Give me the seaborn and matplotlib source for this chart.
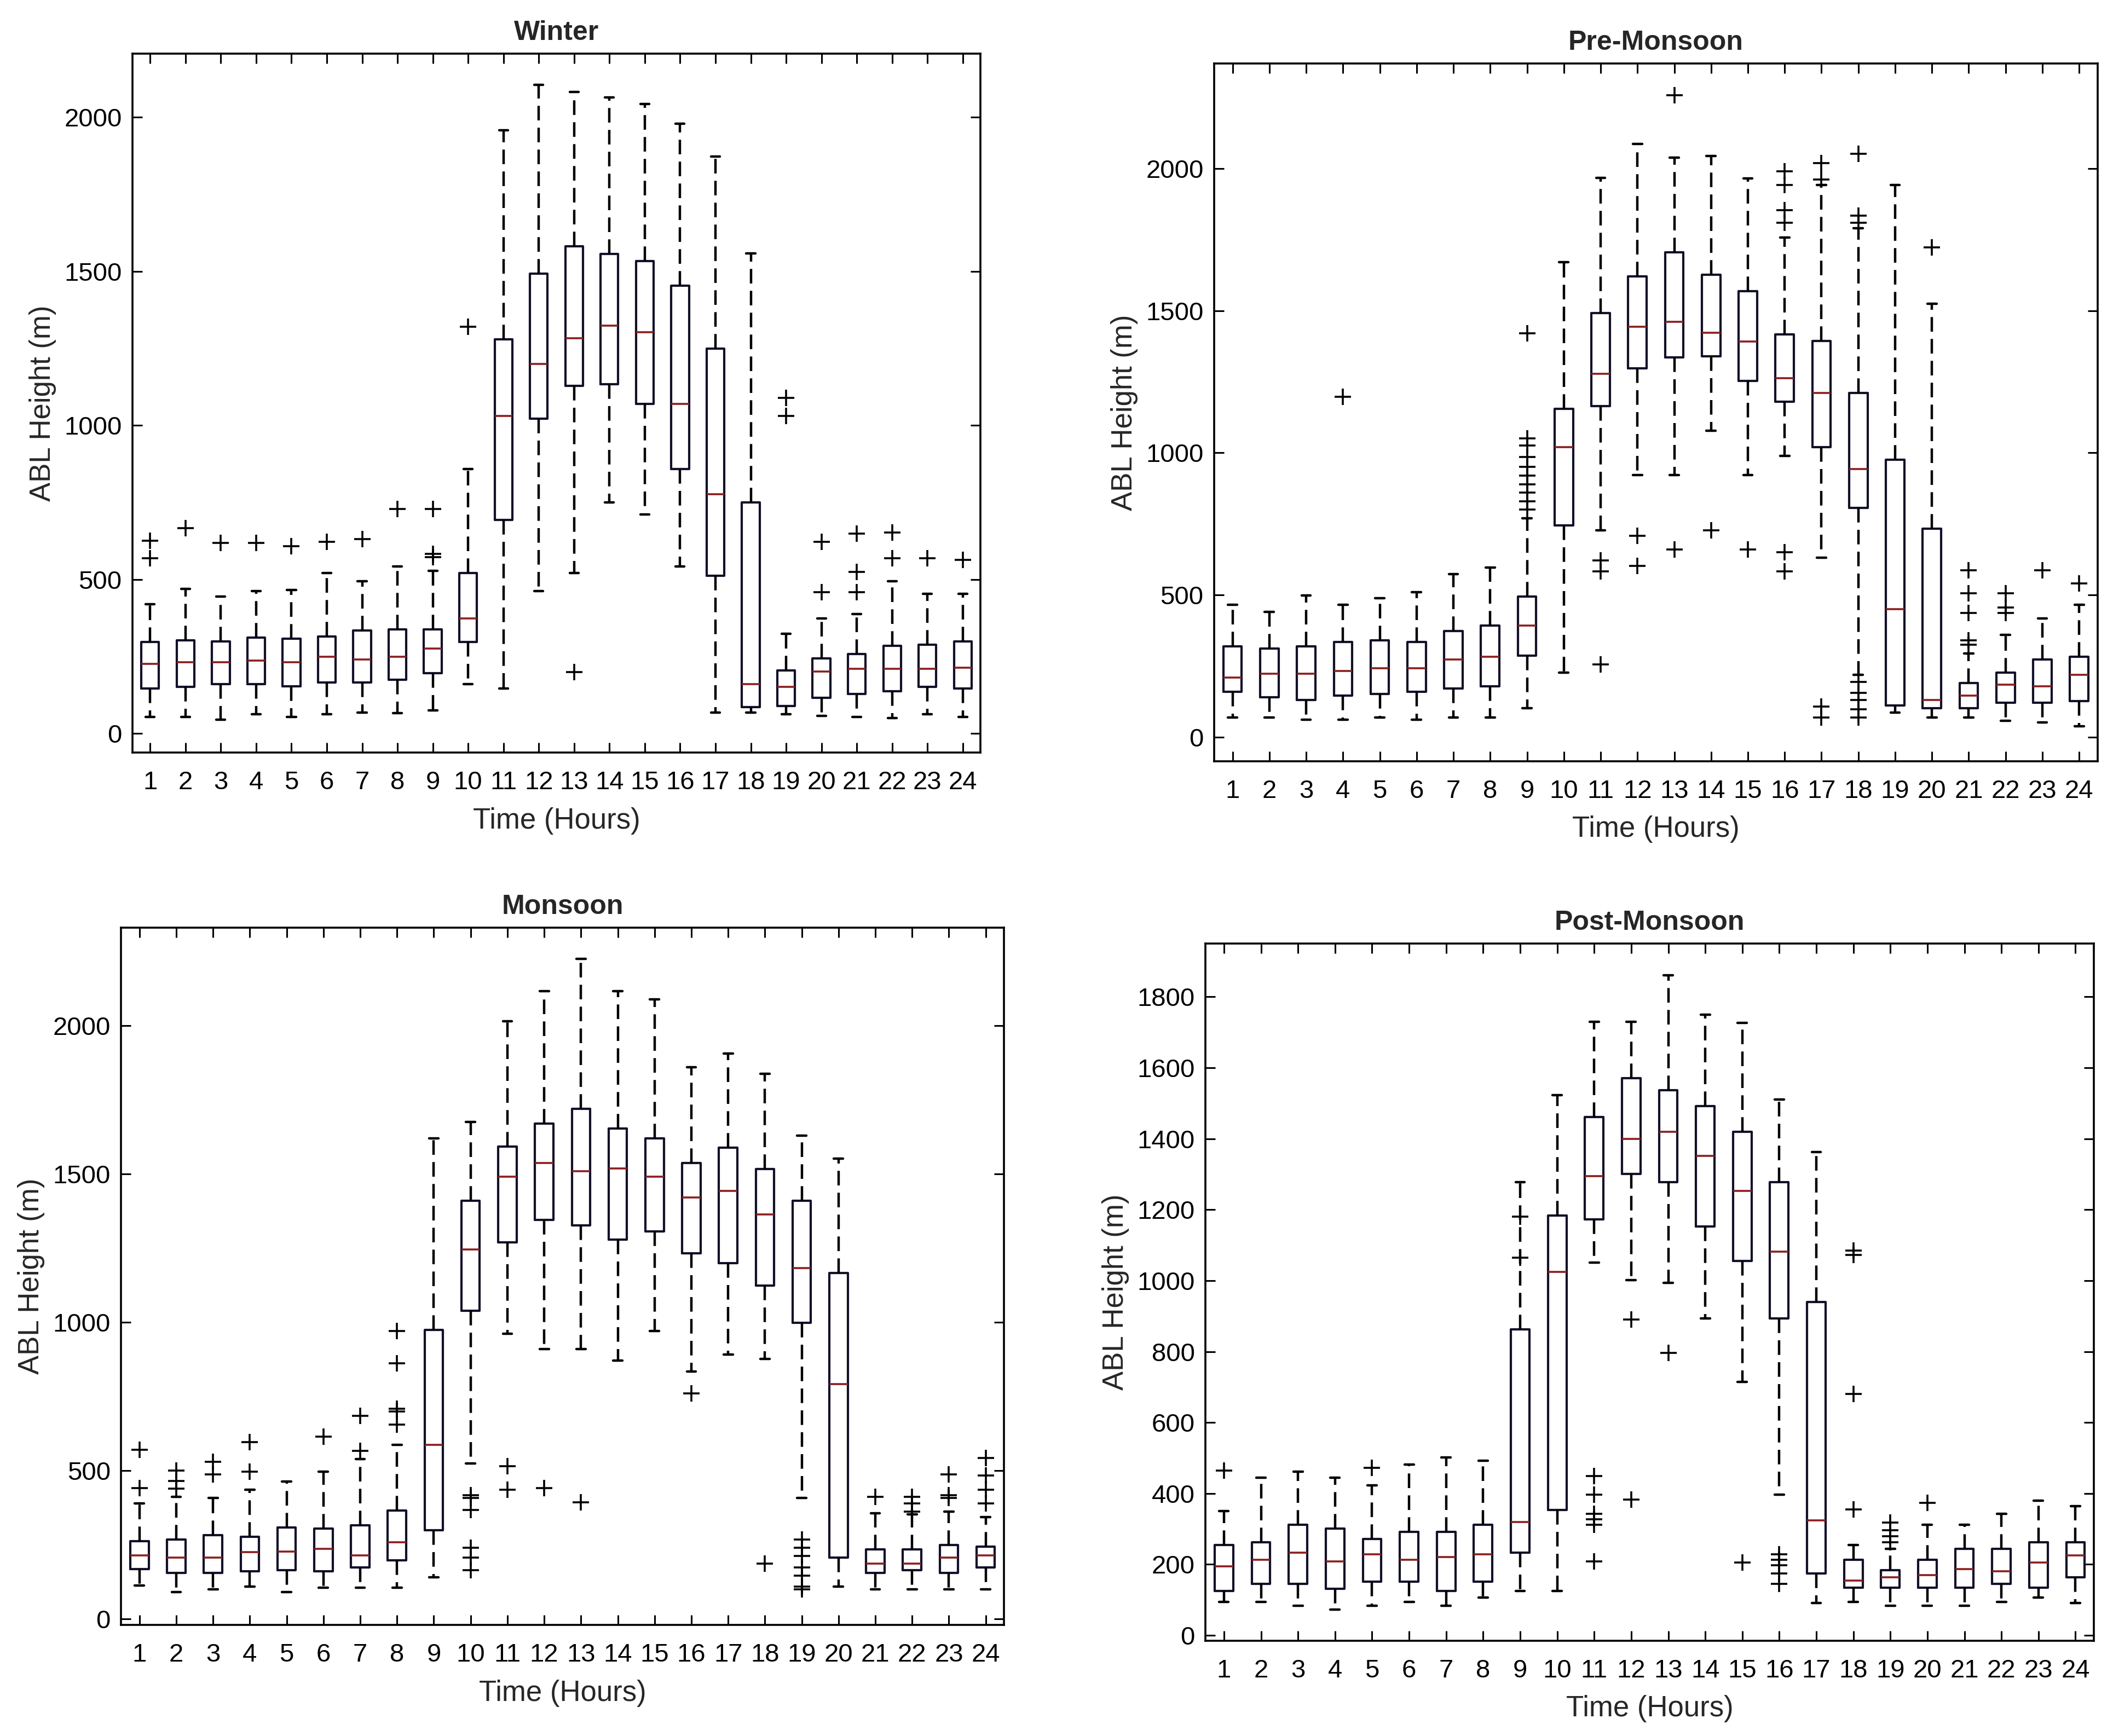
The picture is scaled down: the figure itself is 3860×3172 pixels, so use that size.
import matplotlib
matplotlib.use("Agg")
import matplotlib.pyplot as plt
import seaborn as sns

# hours on the x axis
hours = list(range(1, 25))

# ---------------- Winter ----------------
winter_q1 = [146, 151, 160, 160, 153, 165, 165, 174, 195, 297, 693, 1021, 1128, 1133, 1069, 858, 511, 85, 89, 115, 128, 137, 151, 146]
winter_med = [226, 231, 231, 236, 231, 249, 240, 249, 275, 373, 1030, 1199, 1282, 1323, 1302, 1069, 776, 160, 151, 201, 210, 210, 210, 213]
winter_q3 = [297, 302, 298, 311, 307, 314, 334, 337, 337, 520, 1279, 1492, 1581, 1556, 1533, 1453, 1249, 749, 204, 243, 258, 284, 288, 298]
winter_lo = [53, 53, 44, 62, 53, 62, 67, 66, 75, 160, 146, 462, 520, 749, 710, 542, 67, 67, 62, 57, 53, 50, 62, 53]
winter_hi = [420, 470, 444, 462, 465, 520, 494, 542, 527, 858, 1957, 2105, 2081, 2064, 2042, 1978, 1872, 1558, 323, 373, 387, 494, 453, 453]
winter_out = [[568, 625], [666], [618], [618], [607], [622], [630], [728], [572, 582, 728], [1320],
              [], [], [199], [], [], [], [], [], [1030, 1089], [458, 622], [458, 524, 648], [568, 652], [568], [563]]

# ---------------- Pre-Monsoon ----------------
pre_q1 = [159, 140, 130, 146, 151, 159, 171, 179, 287, 744, 1165, 1297, 1336, 1340, 1252, 1179, 1019, 806, 111, 101, 101, 120, 120, 126]
pre_med = [210, 223, 223, 233, 243, 243, 272, 282, 392, 1019, 1278, 1443, 1460, 1423, 1392, 1262, 1210, 942, 450, 130, 146, 184, 179, 219]
pre_q3 = [320, 311, 320, 334, 340, 334, 373, 392, 495, 1155, 1491, 1621, 1705, 1627, 1569, 1417, 1394, 1210, 975, 734, 190, 227, 272, 282]
pre_lo = [68, 68, 62, 62, 68, 62, 68, 68, 101, 227, 728, 922, 922, 1078, 922, 990, 631, 220, 87, 68, 68, 58, 52, 39]
pre_hi = [466, 441, 499, 466, 489, 509, 573, 596, 770, 1670, 1967, 2087, 2039, 2045, 1965, 1757, 1942, 1790, 1942, 1524, 295, 359, 417, 466]
pre_out = [[], [], [], [1198], [], [], [], [], [800, 830, 860, 890, 920, 950, 985, 1025, 1050, 1421], [],
           [256, 583, 621], [602, 709], [660, 2258], [728], [660], [583, 650, 1810, 1854, 1942, 1990],
           [68, 107, 1961, 2019], [68, 97, 130, 155, 194, 1810, 1835, 2052], [], [1722],
           [324, 340, 437, 505, 586], [437, 456, 505], [586], [540]]

# ---------------- Monsoon ----------------
mon_q1 = [169, 155, 155, 161, 165, 161, 174, 197, 300, 1039, 1270, 1345, 1326, 1279, 1307, 1232, 1200, 1124, 998, 206, 155, 165, 155, 174]
mon_med = [215, 206, 206, 225, 227, 236, 215, 258, 586, 1245, 1491, 1537, 1509, 1519, 1491, 1420, 1442, 1363, 1182, 792, 187, 187, 206, 215]
mon_q3 = [262, 268, 283, 277, 309, 305, 315, 365, 974, 1410, 1592, 1669, 1719, 1654, 1620, 1537, 1588, 1517, 1410, 1167, 234, 234, 249, 243]
mon_lo = [112, 90, 99, 109, 90, 105, 105, 105, 140, 524, 961, 910, 910, 871, 970, 835, 891, 876, 408, 109, 99, 99, 99, 99]
mon_hi = [390, 412, 408, 436, 464, 496, 539, 586, 1620, 1676, 2015, 2116, 2225, 2116, 2088, 1860, 1906, 1837, 1629, 1551, 356, 352, 361, 343]
mon_out = [[442, 571], [440, 465, 500], [487, 530], [496, 596], [], [614], [567, 684], [655, 699, 708, 861, 970], [],
           [165, 206, 240, 367, 408, 418], [436, 515], [442], [393], [], [], [760], [], [187],
           [99, 109, 146, 174, 212, 240, 268], [], [412], [361, 390, 412], [408, 418, 487], [390, 436, 483, 543]]

# ---------------- Post-Monsoon ----------------
post_q1 = [125, 145, 145, 132, 152, 152, 125, 152, 233, 353, 1172, 1301, 1278, 1152, 1055, 893, 175, 134, 134, 134, 134, 145, 134, 164]
post_med = [195, 213, 233, 208, 228, 213, 221, 228, 320, 1024, 1294, 1400, 1420, 1351, 1253, 1081, 324, 155, 163, 170, 187, 180, 205, 225]
post_q3 = [254, 262, 312, 301, 271, 292, 292, 312, 863, 1183, 1461, 1571, 1537, 1492, 1420, 1278, 939, 213, 183, 213, 244, 244, 262, 262]
post_lo = [94, 94, 84, 73, 84, 94, 84, 107, 125, 125, 1050, 1001, 994, 893, 715, 396, 91, 94, 84, 84, 84, 94, 107, 91]
post_hi = [350, 444, 461, 444, 423, 482, 502, 492, 1278, 1522, 1730, 1730, 1860, 1750, 1727, 1510, 1362, 254, 244, 312, 312, 342, 380, 365]
post_out = [[464], [], [], [], [472], [], [], [], [1065, 1180], [], [209, 312, 327, 342, 396, 449], [383, 890], [796],
            [], [205], [145, 175, 198, 213, 228], [], [355, 680, 1073, 1085], [262, 280, 297, 318], [373], [], [], [], []]

BOX_COLOR = "#111128"
MED_COLOR = "#8b1e1e"

sns.set_theme(style="ticks")
plt.rcParams["font.family"] = ["Liberation Sans", "DejaVu Sans"]


def draw_panel(ax, title, q1, med, q3, lo, hi, out, ylim, yticks):
    stats = []
    for h, a, m, b, l, u, f in zip(hours, q1, med, q3, lo, hi, out):
        stats.append(dict(label=str(h), q1=a, med=m, q3=b, whislo=l, whishi=u, fliers=f))
    ax.bxp(stats, positions=hours, widths=0.5, capwidths=0.25, showfliers=True,
           boxprops=dict(color=BOX_COLOR, linewidth=3.0),
           medianprops=dict(color=MED_COLOR, linewidth=2.6),
           whiskerprops=dict(color="black", linewidth=3.2, linestyle=(0, (6, 3))),
           capprops=dict(color="black", linewidth=3.2),
           flierprops=dict(marker="+", markersize=21, markeredgecolor="black", markeredgewidth=2.6))
    ax.set_xlim(0.5, 24.5)
    ax.set_ylim(*ylim)
    ax.set_yticks(yticks)
    ax.set_xticks(hours)
    ax.set_xticklabels([str(h) for h in hours])
    ax.tick_params(direction="in", top=True, right=True, length=13, width=2.2,
                   labelsize=34, color="black", labelcolor="black")
    ax.tick_params(axis="x", pad=24)
    ax.tick_params(axis="y", pad=14)
    for sp in ax.spines.values():
        sp.set_color("black")
        sp.set_linewidth(2.6)
    ax.set_title(title, fontsize=36, fontweight="bold", pad=18)
    ax.set_xlabel("Time (Hours)", fontsize=38, labelpad=16)
    ax.set_ylabel("ABL Height (m)", fontsize=38, labelpad=10)


fig = plt.figure(figsize=(38.6, 31.72), dpi=100)

ax1 = fig.add_axes([0.0627, 0.5665, 0.4013, 0.4026])
ax2 = fig.add_axes([0.5746, 0.5615, 0.4181, 0.4020])
ax3 = fig.add_axes([0.0573, 0.0640, 0.4179, 0.4016])
ax4 = fig.add_axes([0.5705, 0.0549, 0.4205, 0.4016])

draw_panel(ax1, "Winter", winter_q1, winter_med, winter_q3, winter_lo, winter_hi, winter_out,
           (-62, 2206), [0, 500, 1000, 1500, 2000])
draw_panel(ax2, "Pre-Monsoon", pre_q1, pre_med, pre_q3, pre_lo, pre_hi, pre_out,
           (-85, 2370), [0, 500, 1000, 1500, 2000])
draw_panel(ax3, "Monsoon", mon_q1, mon_med, mon_q3, mon_lo, mon_hi, mon_out,
           (-20, 2330), [0, 500, 1000, 1500, 2000])
draw_panel(ax4, "Post-Monsoon", post_q1, post_med, post_q3, post_lo, post_hi, post_out,
           (-15, 1950), [0, 200, 400, 600, 800, 1000, 1200, 1400, 1600, 1800])

fig.savefig("out.png", dpi=100, facecolor="white")
